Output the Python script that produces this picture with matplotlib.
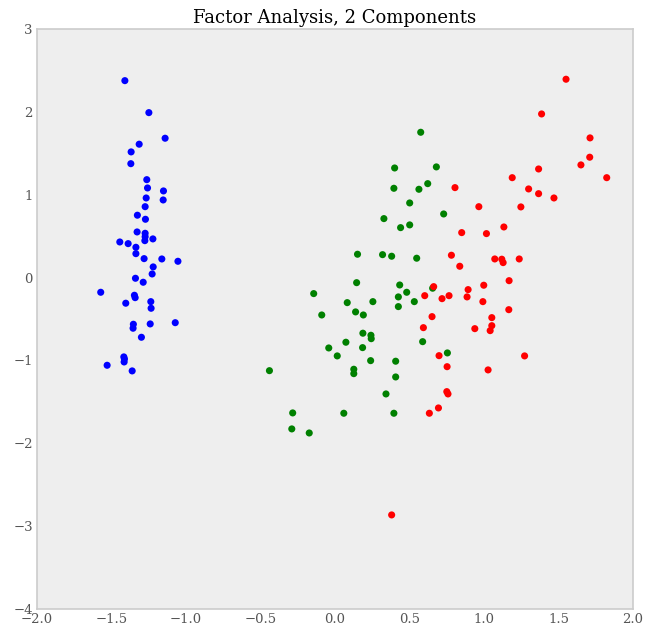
import matplotlib.pyplot as plt

# class 0 (blue)
x_blue = [-1.410, -1.249, -1.140, -1.314, -1.368, -1.370, -1.263, -1.258, -1.151, -1.267,
          -1.153, -1.274, -1.326, -1.272, -1.328, -1.274, -1.274, -1.276, -1.222, -1.444,
          -1.388, -1.336, -1.336, -1.281, -1.162, -1.054, -1.220, -1.227, -1.339, -1.287,
          -1.572, -1.346, -1.341, -1.404, -1.236, -1.234, -1.072, -1.353, -1.355, -1.240,
          -1.299, -1.417, -1.413, -1.415, -1.529, -1.361]
y_blue = [2.376, 1.990, 1.681, 1.609, 1.516, 1.374, 1.181, 1.081, 1.045, 0.960,
          0.936, 0.855, 0.752, 0.703, 0.550, 0.534, 0.493, 0.445, 0.466, 0.429,
          0.409, 0.365, 0.288, 0.228, 0.224, 0.196, 0.128, 0.043, -0.009, -0.057,
          -0.178, -0.214, -0.243, -0.310, -0.291, -0.371, -0.545, -0.564, -0.612, -0.560,
          -0.721, -0.958, -0.983, -1.019, -1.059, -1.127]

# class 1 (green)
x_green = [0.575, 0.400, 0.680, 0.395, 0.563, 0.622, 0.501, 0.328, 0.729, 0.440,
           0.501, 0.151, 0.319, 0.380, 0.548, 0.145, -0.143, 0.434, 0.481, 0.425,
           0.532, 0.425, 0.082, 0.254, -0.089, 0.138, 0.190, 0.187, 0.241, 0.243,
           0.073, -0.042, 0.185, 0.015, 0.239, 0.407, -0.440, 0.126, 0.126, 0.407,
           0.342, -0.284, 0.059, 0.395, -0.290, -0.173, 0.655, 0.588, 0.754]
y_green = [1.753, 1.322, 1.335, 1.077, 1.065, 1.133, 0.900, 0.711, 0.767, 0.602,
           0.635, 0.281, 0.276, 0.257, 0.233, -0.062, -0.194, -0.090, -0.178, -0.234,
           -0.291, -0.351, -0.303, -0.291, -0.452, -0.415, -0.452, -0.672, -0.697, -0.738,
           -0.781, -0.850, -0.846, -0.946, -1.003, -1.010, -1.124, -1.107, -1.160, -1.200,
           -1.405, -1.634, -1.638, -1.638, -1.827, -1.876, -0.129, -0.774, -0.910]

# class 2 (red)
x_red = [1.550, 1.386, 1.711, 1.709, 1.650, 1.823, 1.366, 1.189, 0.805, 1.299,
         1.366, 1.469, 0.965, 1.247, 0.850, 1.016, 1.133, 0.781, 0.837, 1.072,
         1.119, 1.128, 1.236, 1.168, 0.998, 0.893, 0.886, 0.662, 0.602, 0.718,
         0.765, 0.992, 1.166, 0.651, 0.593, 1.052, 1.052, 1.041, 0.938, 0.698,
         1.272, 0.752, 1.027, 0.750, 0.758, 0.694, 0.633, 0.380]
y_red = [2.393, 1.974, 1.685, 1.452, 1.359, 1.205, 1.310, 1.205, 1.085, 1.069,
         1.012, 0.960, 0.855, 0.852, 0.542, 0.530, 0.610, 0.269, 0.136, 0.224,
         0.221, 0.180, 0.224, -0.038, -0.093, -0.146, -0.234, -0.110, -0.219, -0.255,
         -0.219, -0.291, -0.388, -0.472, -0.605, -0.484, -0.581, -0.641, -0.617, -0.943,
         -0.946, -1.076, -1.115, -1.377, -1.405, -1.574, -1.638, -2.865]

plt.rcParams['font.family'] = 'DejaVu Serif'

fig = plt.figure(figsize=(6.48, 6.36), dpi=100)
ax = fig.add_axes([0.057, 0.0425, 0.920, 0.912])
ax.set_facecolor('#eeeeee')

for xs, ys, c in [(x_blue, y_blue, 'b'), (x_green, y_green, 'g'), (x_red, y_red, 'r')]:
    ax.scatter(xs, ys, c=c, s=26, edgecolors='none')

ax.set_xlim(-2, 2)
ax.set_ylim(-4, 3)
for sp in ax.spines.values():
    sp.set_color('#cccccc')
    sp.set_linewidth(1.2)
ax.tick_params(length=0, labelsize=9.5, colors='#555555', pad=3)
ax.set_title('Factor Analysis, 2 Components', fontsize=13, pad=4)

plt.savefig('out.png')
